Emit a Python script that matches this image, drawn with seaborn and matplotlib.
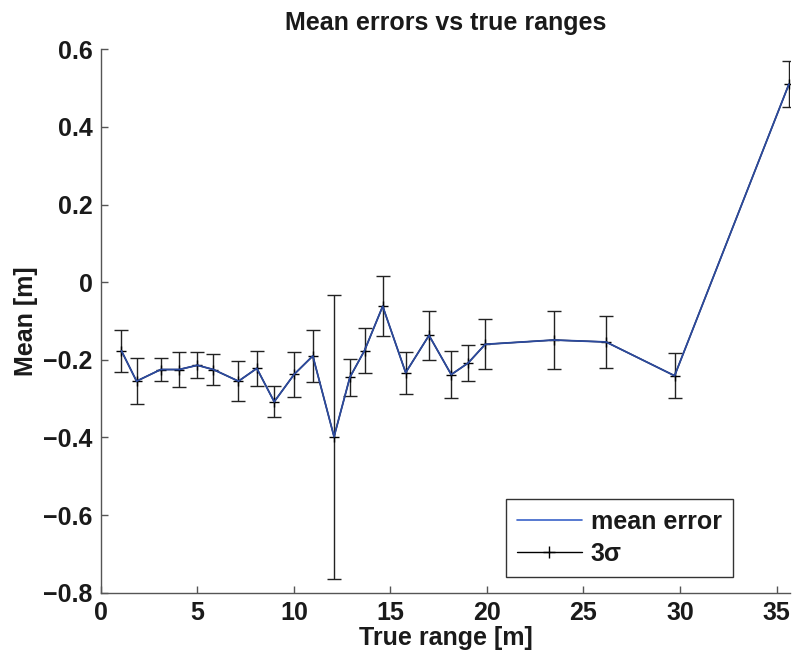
import numpy as np
import matplotlib
matplotlib.use('Agg')
import matplotlib.pyplot as plt
import seaborn as sns
from matplotlib.lines import Line2D

# values
true_range = [1.07, 1.85, 3.1, 4.05, 5.0, 5.83, 7.13, 8.08, 8.98, 10.02, 10.98, 12.08,
              12.9, 13.66, 14.6, 15.79, 17.0, 18.15, 19.03, 19.91, 23.47, 26.17, 29.72, 35.64]
mean_err = [-0.177, -0.255, -0.225, -0.225, -0.214, -0.225, -0.255, -0.222, -0.308, -0.237,
            -0.190, -0.398, -0.245, -0.176, -0.062, -0.233, -0.137, -0.238, -0.208, -0.160,
            -0.149, -0.154, -0.241, 0.510]
three_sigma = [0.055, 0.060, 0.030, 0.044, 0.034, 0.039, 0.052, 0.046, 0.040, 0.058,
               0.067, 0.366, 0.048, 0.058, 0.077, 0.054, 0.063, 0.060, 0.046, 0.064,
               0.075, 0.066, 0.058, 0.059]
x_ticks = [0, 5, 10, 15, 20, 25, 30, 35]
y_ticks = [-0.8, -0.6, -0.4, -0.2, 0, 0.2, 0.4, 0.6]

sns.set_style('white')
plt.rcParams['font.family'] = ['Liberation Sans', 'DejaVu Sans']
plt.rcParams['font.weight'] = 'bold'
plt.rcParams['text.color'] = '#1a1a1a'
plt.rcParams['axes.labelcolor'] = '#1a1a1a'
plt.rcParams['xtick.labelcolor'] = '#1a1a1a'
plt.rcParams['ytick.labelcolor'] = '#1a1a1a'

blue = '#2c4a9e'
fig = plt.figure(figsize=(7.94, 6.61), dpi=100)
ax = fig.add_axes([0.127, 0.1033, 0.868, 0.8221])

ax.errorbar(true_range, mean_err, yerr=three_sigma, fmt='+-', color='black',
            ecolor='#222222', elinewidth=1.0, capsize=4.7, capthick=1.0,
            markersize=7, linewidth=1.0, zorder=2)
sns.lineplot(x=true_range, y=mean_err, color=blue, linewidth=1.3, sort=False,
             estimator=None, ax=ax, zorder=3)

ax.set_xlim(0, 35.7)
ax.set_ylim(-0.8, 0.6)
ax.set_xticks(x_ticks)
ax.set_yticks(y_ticks)
ax.set_yticklabels(['\u22120.8', '\u22120.6', '\u22120.4', '\u22120.2', '0', '0.2', '0.4', '0.6'])
for s in ['top', 'right']:
    ax.spines[s].set_visible(False)
for s in ['left', 'bottom']:
    ax.spines[s].set_color('#555555')
    ax.spines[s].set_linewidth(1.0)
ax.tick_params(direction='in', length=5, width=1, color='#555555', labelsize=18, pad=6,
               left=True, bottom=True)
for lab in ax.get_xticklabels() + ax.get_yticklabels():
    lab.set_fontweight('bold')

ax.set_title('Mean errors vs true ranges', fontsize=18, fontweight='bold', pad=14)
ax.set_xlabel('True range [m]', fontsize=18, fontweight='bold', labelpad=1)
ax.set_ylabel('Mean [m]', fontsize=18, fontweight='bold', labelpad=4)

handles = [Line2D([], [], color='#3a62c8', linewidth=1.2),
           Line2D([], [], color='black', linewidth=1.0, marker='+', markersize=9)]
leg = ax.legend(handles, ['mean error', '3σ'], loc='lower right',
                bbox_to_anchor=(0.917, 0.029), borderaxespad=0,
                prop={'size': 18, 'weight': 'bold'},
                frameon=True, fancybox=False, handlelength=2.6, borderpad=0.45,
                labelspacing=0.3, handletextpad=0.35)
leg.get_frame().set_edgecolor('black')
leg.get_frame().set_linewidth(1.0)

fig.savefig('out.png', dpi=100)
